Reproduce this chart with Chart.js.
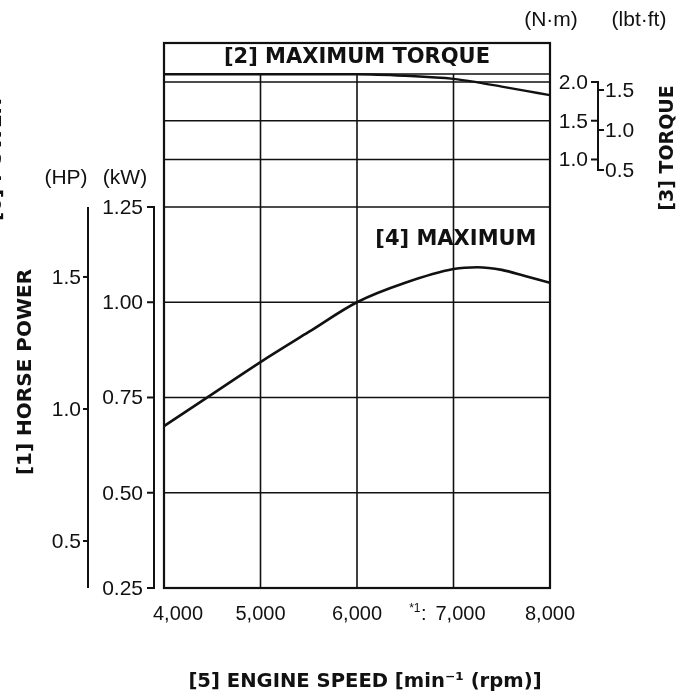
<!DOCTYPE html>
<html>
<head>
<meta charset="utf-8">
<script src="https://cdn.jsdelivr.net/npm/chart.js@4"></script>
<style>
  html, body { margin: 0; padding: 0; background: #fff; }
  #wrap { width: 689px; height: 694px; }
</style>
</head>
<body>
<div id="wrap"><canvas id="perf" width="689" height="694"></canvas></div>
<script>
/* ---- data ---- */
const rpm       = [4000, 4500, 5000, 5500, 6000, 6500, 7000, 7250, 7500, 7750, 8000];
const powerKw   = [0.675, 0.759, 0.843, 0.922, 1.00, 1.051, 1.087, 1.092, 1.085, 1.068, 1.051];
const torqueNm  = [2.10, 2.10, 2.10, 2.10, 2.10, 2.08, 2.04, 1.995, 1.94, 1.885, 1.83];

/* ---- axis ticks ---- */
const rpmTicks  = [4000, 5000, 6000, 7000, 8000];
const rpmLabels = ['4,000', '5,000', '6,000', '7,000', '8,000'];
const kwTicks   = [0.25, 0.50, 0.75, 1.00, 1.25];
const kwLabels  = ['0.25', '0.50', '0.75', '1.00', '1.25'];
const hpTicks   = [0.5, 1.0, 1.5];
const hpLabels  = ['0.5', '1.0', '1.5'];
const nmTicks   = [1.0, 1.5, 2.0];
const nmLabels  = ['1.0', '1.5', '2.0'];
const lbtTicks  = [0.5, 1.0, 1.5];
const lbtLabels = ['0.5', '1.0', '1.5'];

const INK  = '#111';
const NUM  = '"Liberation Sans", Arial, sans-serif';
const BOLD = '"DejaVu Sans", sans-serif';

function line(ctx, x1, y1, x2, y2) {
    ctx.beginPath(); ctx.moveTo(x1, y1); ctx.lineTo(x2, y2); ctx.stroke();
}
function vText(ctx, txt, x, y, font) {
    ctx.save();
    ctx.translate(x, y);
    ctx.rotate(-Math.PI / 2);
    ctx.font = font;
    ctx.textAlign = 'center';
    ctx.fillText(txt, 0, 0);
    ctx.restore();
}

/* grid + frame, under the curves */
const gridPlugin = {
    id: 'grid',
    beforeDatasetsDraw(chart) {
        const { ctx, chartArea: a, scales: s } = chart;
        const bandY = a.top + 31;
        ctx.save();
        ctx.strokeStyle = INK;
        ctx.lineWidth = 1.6;
        rpmTicks.slice(1, -1).forEach(v => {
            const x = s.x.getPixelForValue(v);
            line(ctx, x, bandY, x, a.bottom);
        });
        line(ctx, a.left, bandY, a.right, bandY);
        nmTicks.forEach(v => {
            const y = s.nm.getPixelForValue(v);
            line(ctx, a.left, y, a.right, y);
        });
        kwTicks.slice(1).forEach(v => {
            const y = s.kw.getPixelForValue(v);
            line(ctx, a.left, y, a.right, y);
        });
        ctx.lineWidth = 2.2;
        ctx.strokeRect(a.left, a.top, a.right - a.left, a.bottom - a.top);
        ctx.restore();
    },
    afterDraw(chart) {
        const { ctx, chartArea: a, scales: s } = chart;
        ctx.save();
        ctx.strokeStyle = INK;
        ctx.fillStyle = INK;
        ctx.lineWidth = 2;
        ctx.textBaseline = 'middle';

        /* title band + curve label */
        ctx.font = 'bold 21px ' + BOLD;
        ctx.textAlign = 'center';
        ctx.fillText('[2] MAXIMUM TORQUE', (a.left + a.right) / 2, a.top + 15);
        ctx.fillText('[4] MAXIMUM', s.x.getPixelForValue(7025), s.kw.getPixelForValue(1.165));

        /* kW axis */
        const kx = a.left - 10;
        const kTop = s.kw.getPixelForValue(1.25), kBot = s.kw.getPixelForValue(0.25);
        line(ctx, kx, kTop - 1, kx, kBot + 1);
        ctx.font = '21px ' + NUM;
        ctx.textAlign = 'right';
        kwTicks.forEach((v, i) => {
            const y = s.kw.getPixelForValue(v);
            line(ctx, kx - 7, y, kx + 1, y);
            ctx.fillText(kwLabels[i], kx - 11, y + 1);
        });

        /* HP axis */
        const hx = a.left - 76;
        line(ctx, hx, kTop, hx, kBot);
        hpTicks.forEach((v, i) => {
            const y = s.hp.getPixelForValue(v);
            line(ctx, hx - 5, y, hx, y);
            ctx.fillText(hpLabels[i], hx - 7, y + 1);
        });
        ctx.textAlign = 'center';
        ctx.fillText('(HP)', hx - 22, kTop - 29);
        ctx.fillText('(kW)', kx - 29, kTop - 29);

        /* torque axis */
        const tx = a.right + 48;
        const tTop = s.nm.getPixelForValue(2.0), tBot = s.lbt.getPixelForValue(0.5);
        line(ctx, tx, tTop - 1, tx, tBot + 1);
        ctx.textAlign = 'right';
        nmTicks.forEach((v, i) => {
            const y = s.nm.getPixelForValue(v);
            line(ctx, tx - 7, y, tx, y);
            ctx.fillText(nmLabels[i], tx - 10, y + 1);
        });
        ctx.textAlign = 'left';
        lbtTicks.forEach((v, i) => {
            const y = s.lbt.getPixelForValue(v);
            line(ctx, tx, y, tx + 6, y);
            ctx.fillText(lbtLabels[i], tx + 7, y + 1);
        });
        ctx.textAlign = 'center';
        ctx.fillText('(N\u00b7m)', tx - 47, 20);
        ctx.fillText('(lbt\u00b7ft)', tx + 41, 20);

        /* rpm labels */
        ctx.font = '20px ' + NUM;
        const ly = a.bottom + 26;
        rpmTicks.forEach((v, i) => {
            const x = s.x.getPixelForValue(v);
            if (i === 0) {
                ctx.textAlign = 'left';
                ctx.fillText(rpmLabels[i], x - 11, ly);
            } else if (v === 7000) {
                ctx.textAlign = 'center';
                ctx.fillText(rpmLabels[i], x + 7, ly);
                ctx.textAlign = 'right';
                ctx.fillText(':', x - 27, ly);
                ctx.font = '12px ' + NUM;
                ctx.fillText('*1', x - 33, ly - 5);
                ctx.font = '20px ' + NUM;
            } else {
                ctx.textAlign = 'center';
                ctx.fillText(rpmLabels[i], x, ly);
            }
        });

        /* axis titles */
        ctx.font = 'bold 19.6px ' + BOLD;
        ctx.textAlign = 'center';
        ctx.fillText('[5] ENGINE SPEED [min\u207b\u00b9 (rpm)]', (a.left + a.right) / 2 + 8, a.bottom + 94);
        vText(ctx, '[1] HORSE POWER', 26, 372, 'bold 20px ' + BOLD);
        vText(ctx, '[3] TORQUE', 668, 148, 'bold 19px ' + BOLD);
        vText(ctx, '[6] POWER', -4, 160, 'bold 20px ' + BOLD);
        ctx.restore();
    }
};

new Chart(document.getElementById('perf'), {
    type: 'line',
    data: {
        datasets: [
            {
                label: 'Power (kW)',
                data: rpm.map((r, i) => ({ x: r, y: powerKw[i] })),
                yAxisID: 'kw',
                borderColor: INK,
                borderWidth: 2.6,
                pointRadius: 0,
                cubicInterpolationMode: 'monotone',
                fill: false
            },
            {
                label: 'Torque (N·m)',
                data: rpm.map((r, i) => ({ x: r, y: torqueNm[i] })),
                yAxisID: 'nm',
                borderColor: INK,
                borderWidth: 2.4,
                pointRadius: 0,
                cubicInterpolationMode: 'monotone',
                fill: false
            }
        ]
    },
    options: {
        responsive: false,
        animation: false,
        events: [],
        layout: { padding: { left: 164, top: 43, right: 139, bottom: 106 } },
        plugins: { legend: { display: false }, tooltip: { enabled: false } },
        scales: {
            x:   { type: 'linear', axis: 'x', min: 4000, max: 8000, display: false },
            kw:  { type: 'linear', axis: 'y', min: 0.25, max: 1.6804, display: false },
            hp:  { type: 'linear', axis: 'y', min: 0.322, max: 2.386, display: false },
            nm:  { type: 'linear', axis: 'y', min: -4.529, max: 2.503, display: false },
            lbt: { type: 'linear', axis: 'y', min: -4.725, max: 2.0875, display: false }
        }
    },
    plugins: [gridPlugin]
});
</script>
</body>
</html>
